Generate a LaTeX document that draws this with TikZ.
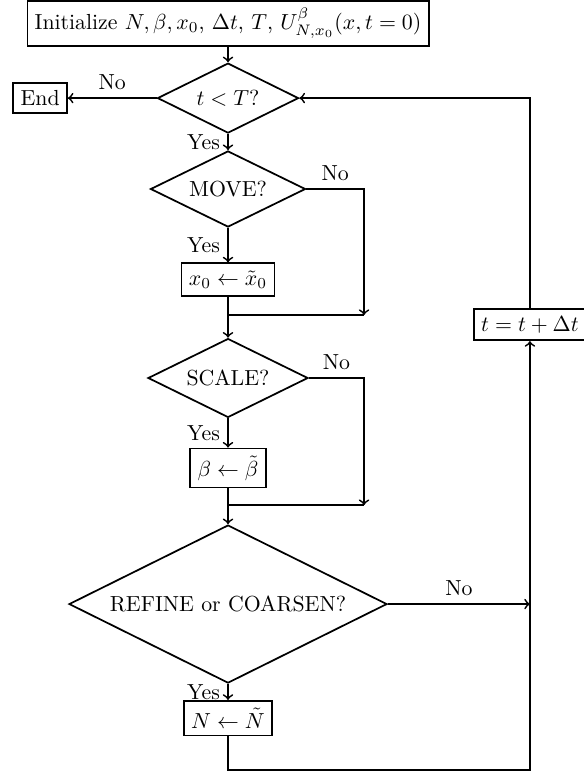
\documentclass[tikz,border=0pt]{standalone}
\usetikzlibrary{shapes.geometric}
\begin{document}
\begin{tikzpicture}[thick,
    block/.style={draw, rectangle},
    decision/.style={draw, diamond, aspect=2, inner sep=0pt}]
  \useasboundingbox (-104.6pt,0pt) rectangle (163.3pt,-354.6pt);
  \draw
    (0pt,0pt) node[block, anchor=north] (init)
      {Initialize $N, \beta, x_0$, $\Delta t$, $T$, $U^{\beta}_{N,x_0}(x,t=0)$}
    (0pt,-45.0pt) node[decision, minimum width=64.7pt, minimum height=32.1pt] (tT) {$t<T$?}
    (-86.2pt,-45.0pt) node[block] (end) {End}
    (0pt,-86.7pt) node[decision, minimum width=71.1pt, minimum height=34.9pt] (move) {MOVE?}
    (0pt,-128.2pt) node[block] (x0) {$x_0 \leftarrow \tilde{x}_0$}
    (0pt,-173.4pt) node[decision, minimum width=73.4pt, minimum height=36.2pt] (scale) {SCALE?}
    (0pt,-214.7pt) node[block] (beta) {$\beta \leftarrow \tilde{\beta}$}
    (0pt,-277.1pt) node[decision, minimum width=145.9pt, minimum height=72.5pt] (refine) {REFINE or COARSEN?}
    (0pt,-329.4pt) node[block] (N) {$N \leftarrow \tilde{N}$}
    (138.5pt,-148.9pt) node[block] (update) {$t=t+\Delta t$};
  \coordinate (m1) at (0pt,-144.5pt);
  \coordinate (m1r) at (62.4pt,-144.5pt);
  \coordinate (m2) at (0pt,-231.7pt);
  \coordinate (m2r) at (62.4pt,-231.7pt);
  \coordinate (corner) at (138.5pt,-353.2pt);
  \begin{scope}[->]
    \draw (init) to (tT);
    \draw (tT) to node[above] {No} (end);
    \draw (tT) to node[left] {Yes} (move);
    \draw (move) to node[left] {Yes} (x0);
    \draw (move.east) -| node[pos=0.25, above] {No} (m1r);
    \draw (m1) to (scale);
    \draw (scale) to node[left] {Yes} (beta);
    \draw (scale.east) -| node[pos=0.25, above] {No} (m2r);
    \draw (m2) to (refine);
    \draw (refine) to node[left] {Yes} (N);
    \draw (refine.east) to node[above] {No} (refine.east -| update);
    \draw (N.south) |- (corner) to (update.south);
    \draw (update.north) |- (tT.east);
  \end{scope}
  \draw (x0.south) |- (m1r);
  \draw (beta.south) |- (m2r);
\end{tikzpicture}
\end{document}
